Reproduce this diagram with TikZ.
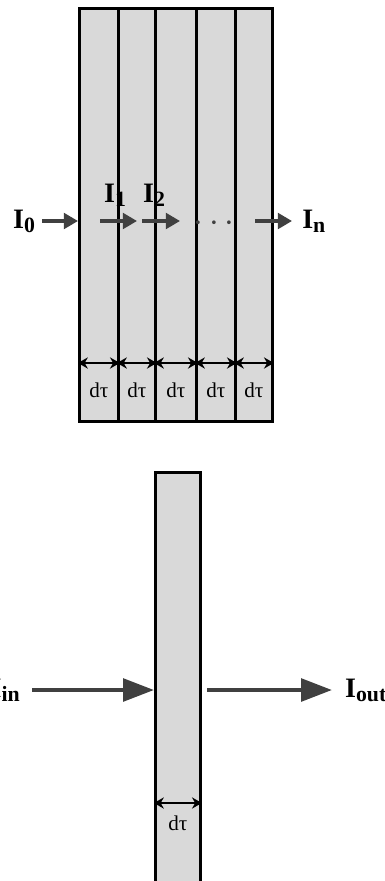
\documentclass[tikz,border=0pt]{standalone}
\usepackage{fontspec}
\setmainfont{Liberation Serif}
\usepackage{xcolor}
\usetikzlibrary{arrows.meta, positioning}
\definecolor{slabgray}{HTML}{D9D9D9}
\definecolor{raygray}{HTML}{404040}
\newcommand{\intensity}[1]{I\raisebox{-2.8pt}{\fontsize{15.5}{16}\selectfont #1}}

\begin{document}
\begin{tikzpicture}[x=0.025cm, y=-0.025cm,
  layer/.style={rectangle, draw, line width=2pt, fill=slabgray, inner sep=0pt, anchor=north west},
  ray/.style={-{Triangle[length=10pt, width=11pt]}, line width=2.8pt, raygray},
  bigray/.style={-{Triangle[length=22pt, width=16pt]}, line width=3pt, raygray},
  span/.style={{Stealth[length=7pt, width=8pt]}-{Stealth[length=7pt, width=8pt]}, line width=1.5pt},
  intlabel/.style={font=\fontsize{20}{22}\selectfont\bfseries, inner sep=0pt},
  dtau/.style={font=\fontsize{15}{16}\selectfont, inner sep=0pt}
]
\useasboundingbox (0,0) rectangle (385,881);
\foreach \x/\w [count=\i] in {78/39, 117/37, 154/41, 195/39, 234/37}
  \node[layer, minimum width=\w*0.025cm, minimum height=10.325cm] (c\i) at (\x,7) {};
\coordinate (top span) at (0,363);
\coordinate (top tau) at (0,390);
\foreach \i in {1,...,5} {
  \draw[span] (c\i.west |- top span) -- (c\i.east |- top span);
  \node[dtau] (t\i) at (c\i.center |- top tau) {dτ};
}
\coordinate (r0) at (42,221);
\node[intlabel, left=0.17cm of r0] (i0) {\intensity{0}};
\draw[ray] (r0) -- (r0 -| c1.west);
\coordinate (r1) at (100,221);
\coordinate (r1e) at (137,221);
\draw[ray] (r1) -- (r1e);
\coordinate (r2) at (142,221);
\coordinate (r2e) at (180,221);
\draw[ray] (r2) -- (r2e);
\node[intlabel] (i1) at (115,195) {\intensity{1}};
\node[intlabel] (i2) at (154,195) {\intensity{2}};
\node[font=\fontsize{27}{27}\selectfont, text=raygray, inner sep=0pt] (dots) at (214,224) {$\cdots$};
\coordinate (r3) at (255,221);
\coordinate (r3e) at (292,221);
\draw[ray] (r3) -- (r3e);
\node[intlabel, right=0.25cm of r3e] (in) {\intensity{n}};

\node[layer, minimum width=1.125cm, minimum height=11cm] (slab) at (154,471) {};
\coordinate (bot span) at (0,803);
\coordinate (bot tau) at (0,823);
\draw[span] (slab.west |- bot span) -- (slab.east |- bot span);
\node[dtau] (t6) at (slab.center |- bot tau) {dτ};
\coordinate (rin) at (32,690);
\node[intlabel, left=0.3cm of rin] (iin) {\intensity{in}};
\draw[bigray] (rin) -- (rin -| slab.west);
\coordinate (rout) at (207,690);
\coordinate (route) at (332,690);
\draw[bigray] (rout) -- (route);
\node[intlabel, right=0.32cm of route] (iout) {\intensity{out}};
\end{tikzpicture}
\end{document}
